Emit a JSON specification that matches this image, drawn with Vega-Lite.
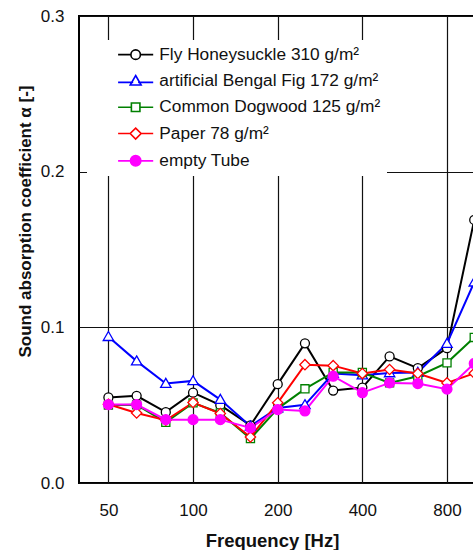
{
  "$schema": "https://vega.github.io/schema/vega-lite/v6.json",
  "width": 395,
  "height": 467,
  "autosize": {"type": "none"},
  "padding": {"left": 79, "top": 16, "right": 0, "bottom": 67},
  "background": "white",
  "config": {
    "font": "Liberation Sans",
    "view": {"stroke": "black", "strokeWidth": 2},
    "axis": {
      "grid": true,
      "gridColor": "#111111",
      "gridWidth": 1.2,
      "gridOpacity": 1,
      "ticks": false,
      "domain": false,
      "labelFont": "Liberation Sans",
      "labelColor": "#111111",
      "labelFontSize": 17,
      "titleFont": "Liberation Sans",
      "titleColor": "#111111",
      "titleFontWeight": "bold"
    },
    "legend": {
      "title": null,
      "orient": "none",
      "legendX": 8,
      "legendY": 24,
      "fillColor": "white",
      "padding": 6,
      "rowPadding": 8.3,
      "symbolOffset": 34,
      "labelOffset": 15,
      "labelFont": "Liberation Sans",
      "labelFontSize": 17.3,
      "labelColor": "#111111",
      "labelLimit": 400,
      "symbolSize": 90,
      "symbolStrokeWidth": 1.6
    }
  },
  "data": {
    "values": [
      {"s": "Fly Honeysuckle 310 g/m²", "f": 50, "a": 0.055},
      {"s": "Fly Honeysuckle 310 g/m²", "f": 63, "a": 0.056},
      {"s": "Fly Honeysuckle 310 g/m²", "f": 80, "a": 0.0455},
      {"s": "Fly Honeysuckle 310 g/m²", "f": 100, "a": 0.058},
      {"s": "Fly Honeysuckle 310 g/m²", "f": 125, "a": 0.05},
      {"s": "Fly Honeysuckle 310 g/m²", "f": 160, "a": 0.037},
      {"s": "Fly Honeysuckle 310 g/m²", "f": 200, "a": 0.0635},
      {"s": "Fly Honeysuckle 310 g/m²", "f": 250, "a": 0.0897},
      {"s": "Fly Honeysuckle 310 g/m²", "f": 315, "a": 0.0594},
      {"s": "Fly Honeysuckle 310 g/m²", "f": 400, "a": 0.0613},
      {"s": "Fly Honeysuckle 310 g/m²", "f": 500, "a": 0.0813},
      {"s": "Fly Honeysuckle 310 g/m²", "f": 630, "a": 0.0738},
      {"s": "Fly Honeysuckle 310 g/m²", "f": 800, "a": 0.0866},
      {"s": "Fly Honeysuckle 310 g/m²", "f": 1000, "a": 0.169},
      {"s": "artificial Bengal Fig 172 g/m²", "f": 50, "a": 0.094},
      {"s": "artificial Bengal Fig 172 g/m²", "f": 63, "a": 0.0783},
      {"s": "artificial Bengal Fig 172 g/m²", "f": 80, "a": 0.0639},
      {"s": "artificial Bengal Fig 172 g/m²", "f": 100, "a": 0.0656},
      {"s": "artificial Bengal Fig 172 g/m²", "f": 125, "a": 0.0536},
      {"s": "artificial Bengal Fig 172 g/m²", "f": 160, "a": 0.0365},
      {"s": "artificial Bengal Fig 172 g/m²", "f": 200, "a": 0.0482},
      {"s": "artificial Bengal Fig 172 g/m²", "f": 250, "a": 0.0502},
      {"s": "artificial Bengal Fig 172 g/m²", "f": 315, "a": 0.0703},
      {"s": "artificial Bengal Fig 172 g/m²", "f": 400, "a": 0.0693},
      {"s": "artificial Bengal Fig 172 g/m²", "f": 500, "a": 0.0707},
      {"s": "artificial Bengal Fig 172 g/m²", "f": 630, "a": 0.071},
      {"s": "artificial Bengal Fig 172 g/m²", "f": 800, "a": 0.0896},
      {"s": "artificial Bengal Fig 172 g/m²", "f": 1000, "a": 0.129},
      {"s": "Common Dogwood 125 g/m²", "f": 50, "a": 0.05},
      {"s": "Common Dogwood 125 g/m²", "f": 63, "a": 0.0502},
      {"s": "Common Dogwood 125 g/m²", "f": 80, "a": 0.039},
      {"s": "Common Dogwood 125 g/m²", "f": 100, "a": 0.0515},
      {"s": "Common Dogwood 125 g/m²", "f": 125, "a": 0.045},
      {"s": "Common Dogwood 125 g/m²", "f": 160, "a": 0.0285},
      {"s": "Common Dogwood 125 g/m²", "f": 200, "a": 0.0478},
      {"s": "Common Dogwood 125 g/m²", "f": 250, "a": 0.0605},
      {"s": "Common Dogwood 125 g/m²", "f": 315, "a": 0.071},
      {"s": "Common Dogwood 125 g/m²", "f": 400, "a": 0.071},
      {"s": "Common Dogwood 125 g/m²", "f": 500, "a": 0.0643},
      {"s": "Common Dogwood 125 g/m²", "f": 630, "a": 0.0686},
      {"s": "Common Dogwood 125 g/m²", "f": 800, "a": 0.0772},
      {"s": "Common Dogwood 125 g/m²", "f": 1000, "a": 0.0935},
      {"s": "Paper 78 g/m²", "f": 50, "a": 0.0506},
      {"s": "Paper 78 g/m²", "f": 63, "a": 0.045},
      {"s": "Paper 78 g/m²", "f": 80, "a": 0.0403},
      {"s": "Paper 78 g/m²", "f": 100, "a": 0.0517},
      {"s": "Paper 78 g/m²", "f": 125, "a": 0.0446},
      {"s": "Paper 78 g/m²", "f": 160, "a": 0.0296},
      {"s": "Paper 78 g/m²", "f": 200, "a": 0.0515},
      {"s": "Paper 78 g/m²", "f": 250, "a": 0.076},
      {"s": "Paper 78 g/m²", "f": 315, "a": 0.0754},
      {"s": "Paper 78 g/m²", "f": 400, "a": 0.0703},
      {"s": "Paper 78 g/m²", "f": 500, "a": 0.0729},
      {"s": "Paper 78 g/m²", "f": 630, "a": 0.0703},
      {"s": "Paper 78 g/m²", "f": 800, "a": 0.0643},
      {"s": "Paper 78 g/m²", "f": 1000, "a": 0.0705},
      {"s": "empty Tube", "f": 50, "a": 0.0504},
      {"s": "empty Tube", "f": 63, "a": 0.0504},
      {"s": "empty Tube", "f": 80, "a": 0.0407},
      {"s": "empty Tube", "f": 100, "a": 0.0407},
      {"s": "empty Tube", "f": 125, "a": 0.0407},
      {"s": "empty Tube", "f": 160, "a": 0.0354},
      {"s": "empty Tube", "f": 200, "a": 0.0472},
      {"s": "empty Tube", "f": 250, "a": 0.0463},
      {"s": "empty Tube", "f": 315, "a": 0.0686},
      {"s": "empty Tube", "f": 400, "a": 0.058},
      {"s": "empty Tube", "f": 500, "a": 0.0643},
      {"s": "empty Tube", "f": 630, "a": 0.0639},
      {"s": "empty Tube", "f": 800, "a": 0.0603},
      {"s": "empty Tube", "f": 1000, "a": 0.0768}
    ]
  },
  "encoding": {
    "x": {
      "field": "f",
      "type": "quantitative",
      "scale": {"type": "log", "domain": [39.3, 998]},
      "axis": {
        "values": [50, 100, 200, 400, 800],
        "format": "d",
        "labelPadding": 19,
        "labelFlush": false,
        "title": "Frequency [Hz]",
        "titleFontSize": 18.5,
        "titleX": 193,
        "titleY": 63,
        "titleBaseline": "alphabetic"
      }
    },
    "y": {
      "field": "a",
      "type": "quantitative",
      "scale": {"domain": [0, 0.3]},
      "axis": {
        "values": [0, 0.1, 0.2, 0.3],
        "format": ".1f",
        "labelPadding": 15,
        "title": "Sound absorption coefficient α [-]",
        "titleFontSize": 17,
        "titleX": -49,
        "titleY": 205,
        "titleBaseline": "alphabetic"
      }
    }
  },
  "resolve": {
    "scale": {"stroke": "independent", "fill": "independent", "shape": "independent"},
    "legend": {"stroke": "independent", "fill": "independent", "shape": "independent"}
  },
  "layer": [
    {
      "mark": {"type": "line", "strokeWidth": 2},
      "encoding": {
        "stroke": {
          "field": "s",
          "type": "nominal",
          "scale": {
            "domain": ["Fly Honeysuckle 310 g/m²", "artificial Bengal Fig 172 g/m²", "Common Dogwood 125 g/m²", "Paper 78 g/m²", "empty Tube"],
            "range": ["#000000", "#0000FF", "#008000", "#FF0000", "#FF00FF"]
          },
          "legend": null
        }
      }
    },
    {
      "mark": {"type": "point", "filled": false, "opacity": 1, "strokeWidth": 1.3, "size": 81},
      "encoding": {
        "stroke": {
          "field": "s",
          "type": "nominal",
          "scale": {
            "domain": ["Fly Honeysuckle 310 g/m²", "artificial Bengal Fig 172 g/m²", "Common Dogwood 125 g/m²", "Paper 78 g/m²", "empty Tube"],
            "range": ["#000000", "#0000FF", "#008000", "#FF0000", "#FF00FF"]
          },
          "legend": null
        },
        "shape": {
          "field": "s",
          "type": "nominal",
          "scale": {
            "domain": ["Fly Honeysuckle 310 g/m²", "artificial Bengal Fig 172 g/m²", "Common Dogwood 125 g/m²", "Paper 78 g/m²", "empty Tube"],
            "range": [
              "M1,0A1,1,0,1,1,-1,0A1,1,0,1,1,1,0Z",
              "M0,-1.15L1.15,0.85L-1.15,0.85Z",
              "M-0.9,-0.9H0.9V0.9H-0.9Z",
              "M0,-1.15L1.15,0L0,1.15L-1.15,0Z",
              "M1.1,0A1.1,1.1,0,1,1,-1.1,0A1.1,1.1,0,1,1,1.1,0Z"
            ]
          },
          "legend": null
        },
        "fill": {
          "field": "s",
          "type": "nominal",
          "scale": {
            "domain": ["Fly Honeysuckle 310 g/m²", "artificial Bengal Fig 172 g/m²", "Common Dogwood 125 g/m²", "Paper 78 g/m²", "empty Tube"],
            "range": ["#FFFFFF", "#FFFFFF", "#FFFFFF", "#FFFFFF", "#FF00FF"]
          },
          "legend": null
        }
      }
    },
    {
      "transform": [{"filter": "datum.f < 0"}],
      "mark": {"type": "point", "filled": false, "opacity": 1, "strokeWidth": 1.6, "size": 90},
      "encoding": {
        "stroke": {
          "field": "s",
          "type": "nominal",
          "scale": {
            "domain": ["Fly Honeysuckle 310 g/m²", "artificial Bengal Fig 172 g/m²", "Common Dogwood 125 g/m²", "Paper 78 g/m²", "empty Tube"],
            "range": ["#000000", "#0000FF", "#008000", "#FF0000", "#FF00FF"]
          }
        },
        "shape": {
          "field": "s",
          "type": "nominal",
          "scale": {
            "domain": ["Fly Honeysuckle 310 g/m²", "artificial Bengal Fig 172 g/m²", "Common Dogwood 125 g/m²", "Paper 78 g/m²", "empty Tube"],
            "range": [
              "M-3.7,0H-1M1,0H3.7M1,0A1,1,0,1,1,-1,0A1,1,0,1,1,1,0Z",
              "M-3.7,0.3H-0.52M0.52,0.3H3.7M0,-1.15L1.15,0.85L-1.15,0.85Z",
              "M-3.7,0H-0.9M0.9,0H3.7M-0.9,-0.9H0.9V0.9H-0.9Z",
              "M-3.7,0H-1.15M1.15,0H3.7M0,-1.15L1.15,0L0,1.15L-1.15,0Z",
              "M-3.7,0H-1.1M1.1,0H3.7M1.1,0A1.1,1.1,0,1,1,-1.1,0A1.1,1.1,0,1,1,1.1,0Z"
            ]
          }
        },
        "fill": {
          "field": "s",
          "type": "nominal",
          "scale": {
            "domain": ["Fly Honeysuckle 310 g/m²", "artificial Bengal Fig 172 g/m²", "Common Dogwood 125 g/m²", "Paper 78 g/m²", "empty Tube"],
            "range": ["#FFFFFF", "#FFFFFF", "#FFFFFF", "#FFFFFF", "#FF00FF"]
          }
        }
      }
    }
  ]
}
